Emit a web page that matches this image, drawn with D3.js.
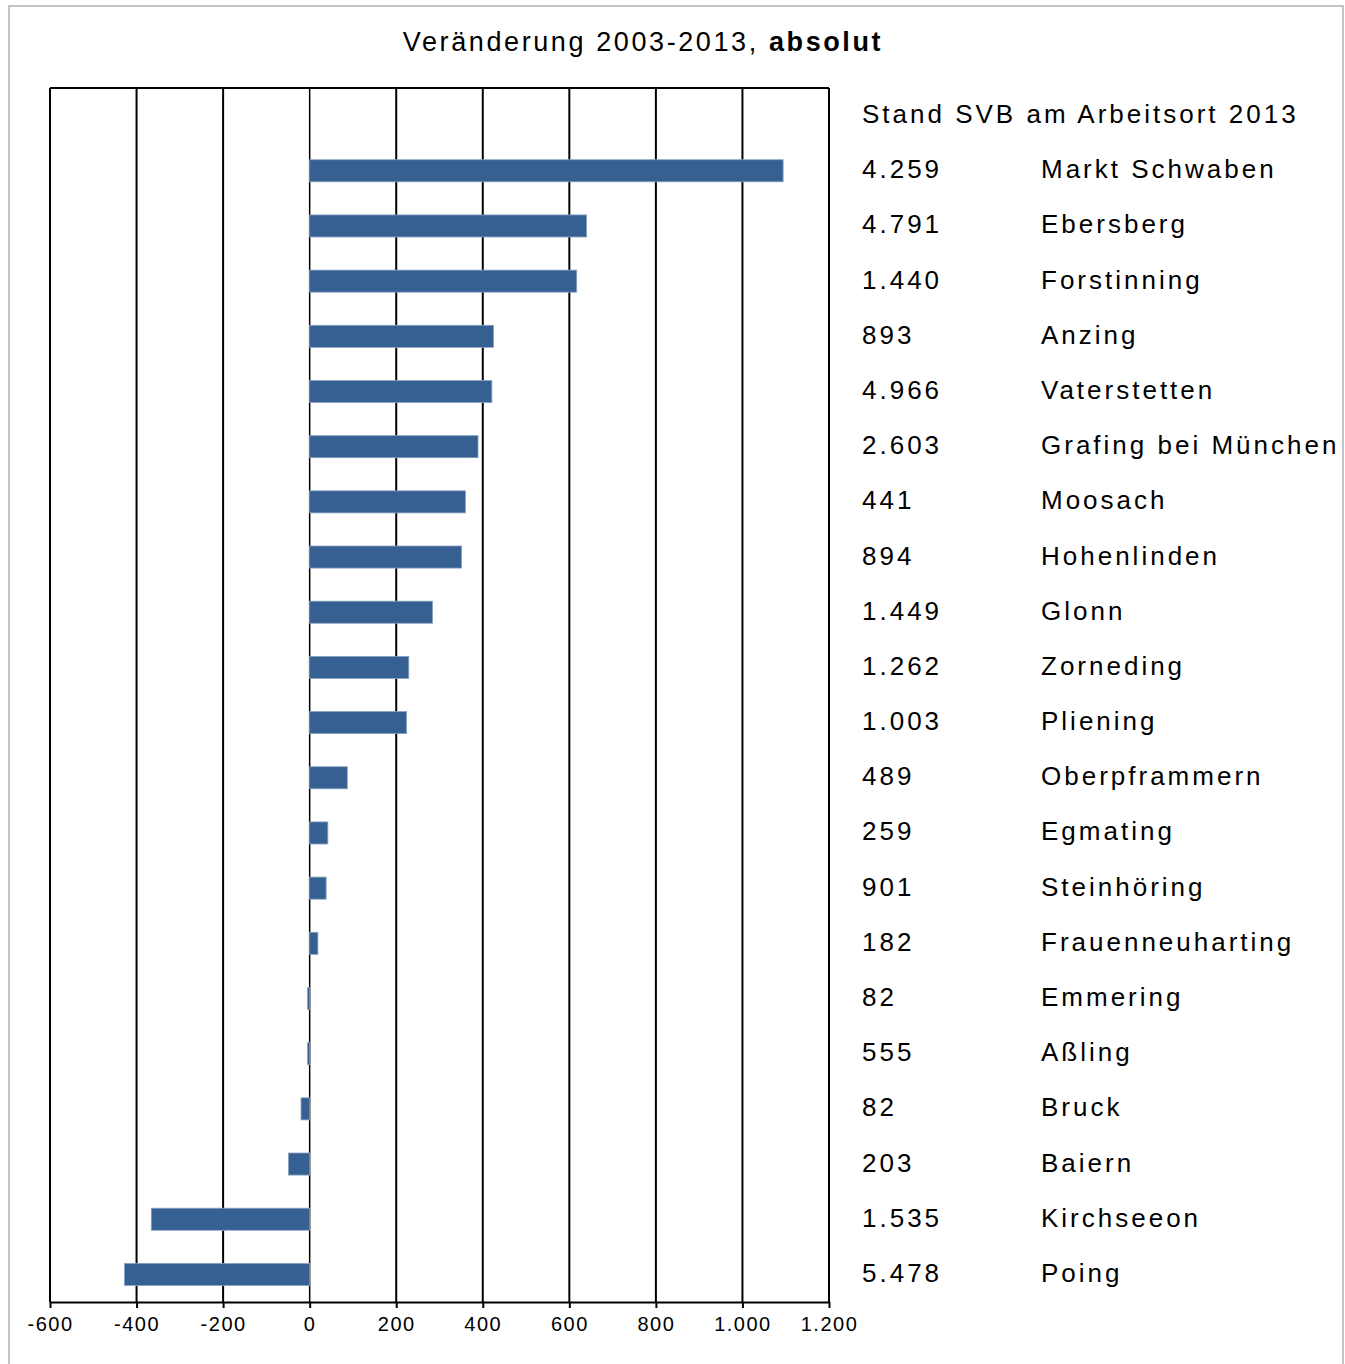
<!DOCTYPE html>
<html lang="de">
<head>
<meta charset="UTF-8">
<script src="https://d3js.org/d3.v7.min.js"></script>
<title>Veränderung 2003-2013</title>
<style>
  body { margin: 0; background: #fff; }
  svg { display: block; font-family: "Liberation Sans", Arial, sans-serif; }
  .lbl { font-size: 26px; letter-spacing: 3px; fill: #000; }
  .axis text { font-size: 20px; letter-spacing: 1.5px; fill: #000; font-family: "Liberation Sans", Arial, sans-serif; }
  .axis path, .axis line { stroke: #000; stroke-width: 2px; }
</style>
</head>
<body>
<svg id="chart" width="1345" height="1364"></svg>
<script>
// Gemeinden, sortiert nach Veränderung
var names = ["Markt Schwaben", "Ebersberg", "Forstinning", "Anzing", "Vaterstetten",
  "Grafing bei München", "Moosach", "Hohenlinden", "Glonn", "Zorneding", "Pliening",
  "Oberpframmern", "Egmating", "Steinhöring", "Frauenneuharting", "Emmering", "Aßling",
  "Bruck", "Baiern", "Kirchseeon", "Poing"];
// Veränderung 2003-2013, absolut
var change = [1094, 640, 617, 425, 421, 389, 360, 351, 284, 229, 224,
  87, 42, 38, 19, -5, -5, -20, -49, -366, -428];
// Stand SVB am Arbeitsort 2013
var stand = [4259, 4791, 1440, 893, 4966, 2603, 441, 894, 1449, 1262, 1003,
  489, 259, 901, 182, 82, 555, 82, 203, 1535, 5478];
var xTicks = [-600, -400, -200, 0, 200, 400, 600, 800, 1000, 1200];

var de = d3.formatLocale({decimal: ",", thousands: ".", grouping: [3], currency: ["", " €"]});
var fmt = de.format(",d");

var svg = d3.select("#chart");

// outer frame
svg.append("rect")
  .attr("x", 9).attr("y", 6).attr("width", 1334).attr("height", 1370)
  .attr("fill", "none").attr("stroke", "#c3c3c3").attr("stroke-width", 2);

var plotL = 50, plotR = 829, plotT = 88, plotB = 1302;

var x = d3.scaleLinear().domain([-600, 1200]).range([plotL, plotR]);
var y = d3.scaleBand()
  .domain([""].concat(names))
  .range([plotT, plotB])
  .paddingInner(0.6)
  .paddingOuter(0.3);

// title
var title = svg.append("text")
  .attr("class", "lbl")
  .attr("x", 643).attr("y", 51)
  .attr("text-anchor", "middle")
  .style("letter-spacing", "2.6px")
  .style("font-size", "27px");
title.append("tspan").text("Veränderung 2003-2013, ");
title.append("tspan").attr("font-weight", "bold").text("absolut");

// grid lines
svg.append("g")
  .selectAll("line")
  .data(xTicks)
  .enter()
  .append("line")
  .attr("x1", function(d){ return x(d); })
  .attr("x2", function(d){ return x(d); })
  .attr("y1", plotT).attr("y2", plotB)
  .attr("stroke", "#000")
  .attr("stroke-width", function(d){ return d === 0 ? 1.5 : 2; });

// top border
svg.append("line")
  .attr("x1", plotL).attr("x2", plotR)
  .attr("y1", plotT).attr("y2", plotT)
  .attr("stroke", "#000").attr("stroke-width", 2);

// bars
svg.append("g")
  .selectAll("rect")
  .data(names)
  .enter()
  .append("rect")
  .attr("x", function(d, i){ return x(Math.min(0, change[i])); })
  .attr("y", function(d){ return y(d); })
  .attr("width", function(d, i){ return Math.abs(x(change[i]) - x(0)); })
  .attr("height", y.bandwidth())
  .attr("fill", "#366092")
  .attr("stroke", "#8aa3c4")
  .attr("stroke-width", 0.8);

// x axis
svg.append("g")
  .attr("class", "axis")
  .attr("transform", "translate(0," + plotB + ")")
  .call(d3.axisBottom(x)
    .tickValues(xTicks)
    .tickSize(6)
    .tickSizeOuter(0)
    .tickPadding(9)
    .tickFormat(function(d){ return d < 0 ? "-" + fmt(-d) : fmt(d); }));

// right-hand table
svg.append("text")
  .attr("class", "lbl")
  .attr("x", 862)
  .attr("y", y("") + y.bandwidth() / 2 + 7.5)
  .text("Stand SVB am Arbeitsort 2013");

var rows = svg.append("g")
  .selectAll("g")
  .data(names)
  .enter()
  .append("g")
  .attr("transform", function(d){ return "translate(0," + (y(d) + y.bandwidth() / 2 + 7.5) + ")"; });

rows.append("text")
  .attr("class", "lbl")
  .attr("x", 862)
  .text(function(d, i){ return fmt(stand[i]); });

rows.append("text")
  .attr("class", "lbl")
  .attr("x", 1041)
  .text(function(d){ return d; });
</script>
</body>
</html>
